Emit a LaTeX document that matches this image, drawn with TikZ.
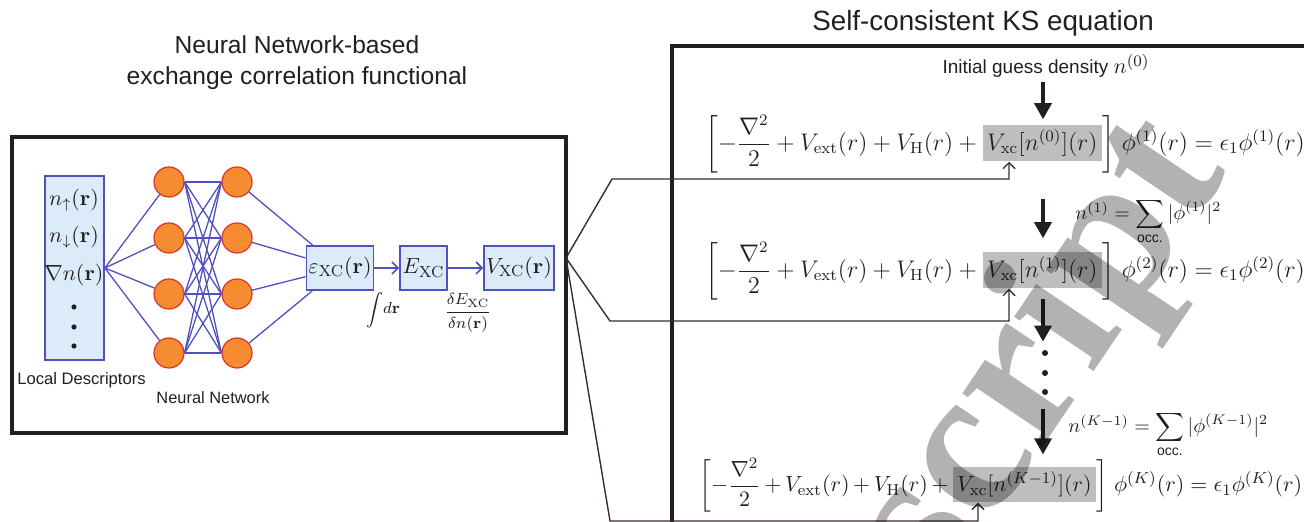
\documentclass[tikz,border=0pt]{standalone}
\usepackage{amsmath}
\usepackage[no-math]{fontspec}
\newfontfamily\arial{Liberation Sans}
\newfontfamily\wmfont{Liberation Serif}
\usetikzlibrary{arrows.meta}
\definecolor{ink}{RGB}{35,31,32}
\definecolor{nnblue}{RGB}{80,80,190}
\definecolor{nnfill}{RGB}{220,235,250}
\definecolor{orangefill}{RGB}{245,140,50}
\definecolor{reddraw}{RGB}{220,50,40}
\definecolor{hlgray}{RGB}{190,190,193}
\definecolor{lineink}{RGB}{55,45,45}
\tikzset{
  frame/.style={draw=ink, line width=2pt, inner sep=0pt},
  vbox/.style={draw=nnblue, fill=nnfill, line width=0.9pt, inner sep=1pt},
  neuron/.style={circle, draw=reddraw, fill=orangefill, line width=0.6pt, minimum size=15pt, inner sep=0pt},
  nnline/.style={draw=nnblue, line width=0.65pt},
  blarrow/.style={draw=nnblue, line width=0.8pt, -{Straight Barb[length=3pt,width=6pt]}},
  dotnode/.style={circle, fill=ink, minimum size=2.6pt, inner sep=0pt},
  hl/.style={fill=hlgray, inner xsep=2pt, inner ysep=2.5pt},
  bigarr/.style={draw=ink, line width=1.7pt, -{Triangle[length=8pt,width=8.5pt]}},
  fbarr/.style={draw=lineink, line width=0.7pt, -{Straight Barb[length=3pt,width=6pt]}},
  eqfont/.style={font=\fontsize{11.6}{14}\selectfont},
  wm/.style={font=\wmfont\bfseries\fontsize{105}{105}\selectfont, text=black, text opacity=0.3, inner sep=0pt}
}
\begin{document}
\begin{tikzpicture}[x=0.5pt,y=-0.5pt, every node/.style={inner sep=0pt, text=ink}]
\useasboundingbox (0,0) rectangle (1304,522);
\clip (0,0) rectangle (1304,522);

% titles
\node[align=center, font=\arial\fontsize{12.3}{15.5}\selectfont] (lt) at (297,63) {Neural Network-based\\exchange correlation functional};
\node[font=\arial\fontsize{13.9}{16}\selectfont] (rt) at (983,23) {Self-consistent KS equation};

% left frame
\node[frame, minimum width=277pt, minimum height=148pt] (nnbox) at (289,285) {};

% descriptors
\node[vbox, minimum width=29.5pt, minimum height=92pt] (desc) at (74.5,268) {};
\node[font=\fontsize{10.5}{13}\selectfont] (d1) at (74,200) {$n_\uparrow(\mathbf{r})$};
\node[font=\fontsize{10.5}{13}\selectfont] (d2) at (74,237) {$n_\downarrow(\mathbf{r})$};
\node[font=\fontsize{10.5}{13}\selectfont] (d3) at (74,275) {$\nabla n(\mathbf{r})$};
\node[dotnode] (dd1) at (74,307) {};
\node[dotnode] (dd2) at (74,327) {};
\node[dotnode] (dd3) at (74,346) {};
\node[anchor=west, font=\arial\fontsize{8.3}{10}\selectfont] (ld) at (17,380) {Local Descriptors};

% neurons
\foreach \i/\y in {1/182,2/238,3/294,4/353}{
  \node[neuron] (a\i) at (169,\y) {};
  \node[neuron] (b\i) at (237,\y) {};
}
\node[font=\arial\fontsize{8.2}{10}\selectfont] (nnl) at (213,398) {Neural Network};

% boxes
\node[vbox, minimum width=33pt, minimum height=22pt, font=\fontsize{11}{13}\selectfont] (eps) at (340,268) {$\varepsilon_{\mathrm{XC}}(\mathbf{r})$};
\node[vbox, minimum width=23.5pt, minimum height=22pt, font=\fontsize{11}{13}\selectfont] (Exc) at (423.5,268) {$E_{\mathrm{XC}}$};
\node[vbox, minimum width=34pt, minimum height=22pt, font=\fontsize{11}{13}\selectfont] (Vxc) at (519,268) {$V_{\mathrm{XC}}(\mathbf{r})$};

\foreach \i in {1,...,4}{
  \draw[nnline] (desc.east) -- (a\i);
  \draw[nnline] (b\i) -- (eps);
  \foreach \j in {1,...,4}{
    \draw[nnline] (a\i.east) -- (b\j.west);
  }
}
\draw[blarrow] (eps) -- (Exc);
\draw[blarrow] (Exc) -- (Vxc);
\node[font=\fontsize{8}{10}\selectfont] (intl) at (383,310) {$\displaystyle\int\! d\mathbf{r}$};
\node[font=\fontsize{8}{10}\selectfont] (dvar) at (468,313) {$\dfrac{\delta E_{\mathrm{XC}}}{\delta n(\mathbf{r})}$};

% right frame
\node[frame, minimum width=350pt, minimum height=260pt, anchor=north west] (ksbox) at (670,44) {};

% initial guess
\node[font=\arial\fontsize{9.5}{12}\selectfont] (init) at (1046,66) {Initial guess density {\fontsize{11}{13}\selectfont$n^{(0)}$}};

% equations
\node[hl, eqfont, anchor=east] (h1) at (1102,143) {$V_{\mathrm{xc}}[n^{(0)}](r)$};
\node[eqfont, anchor=base east] (l1) at (h1.base west) {$\biggl[-\dfrac{\nabla^2}{2}+V_{\mathrm{ext}}(r)+V_{\mathrm{H}}(r)+{}$};
\node[eqfont, anchor=base west] (r1) at (h1.base east) {$\biggr]\;\phi^{(1)}(r)=\epsilon_1\phi^{(1)}(r)$};

\node[hl, eqfont, anchor=east] (h2) at (1102,270) {$V_{\mathrm{xc}}[n^{(1)}](r)$};
\node[eqfont, anchor=base east] (l2) at (h2.base west) {$\biggl[-\dfrac{\nabla^2}{2}+V_{\mathrm{ext}}(r)+V_{\mathrm{H}}(r)+{}$};
\node[eqfont, anchor=base west] (r2) at (h2.base east) {$\biggr]\;\phi^{(2)}(r)=\epsilon_1\phi^{(2)}(r)$};

\node[hl, font=\fontsize{11.3}{14}\selectfont, anchor=east] (h3) at (1096,484.5) {$V_{\mathrm{xc}}[n^{(K-1)}](r)$};
\node[font=\fontsize{11.2}{14}\selectfont, anchor=base east] (l3) at (h3.base west) {$\medmuskip=3mu\biggl[-\dfrac{\nabla^2}{2}+V_{\mathrm{ext}}(r)+V_{\mathrm{H}}(r)+{}$};
\node[font=\fontsize{11.3}{14}\selectfont, anchor=base west] (r3) at (h3.base east) {$\biggr]\;\phi^{(K)}(r)=\epsilon_1\phi^{(K)}(r)$};

% density updates
\node[anchor=west, font=\fontsize{10.3}{13}\selectfont] (s1) at (1075,222) {$n^{(1)}=\displaystyle\sum_{\mbox{\arial\fontsize{7}{8}\selectfont occ.}}|\phi^{(1)}|^2$};
\node[anchor=west, font=\fontsize{10.2}{13}\selectfont] (s2) at (1068,435) {$n^{(K-1)}=\displaystyle\sum_{\mbox{\arial\fontsize{7}{8}\selectfont occ.}}|\phi^{(K-1)}|^2$};

% big arrows and dots
\coordinate (ax) at (1043,0);
\node[dotnode, minimum size=3pt] (dt1) at (1045,353) {};
\node[dotnode, minimum size=3pt] (dt2) at (1045,373) {};
\node[dotnode, minimum size=3pt] (dt3) at (1045,392) {};
\draw[bigarr, shorten <=2pt, shorten >=2.5pt] (init.south -| ax) -- (h1.north -| ax);
\draw[bigarr, shorten >=6.5pt] (s1.north -| ax) -- (h2.north -| ax);
\draw[bigarr, shorten <=5pt, shorten >=4pt] (h2.south -| ax) -- (dt1.north -| ax);
\draw[bigarr, shorten <=7pt, shorten >=6pt] (dt3.south -| ax) -- (h3.north -| ax);

% feedback connectors
\coordinate (fan) at (566,258);
\coordinate (k1) at (612,179);
\coordinate (k2) at (610,321);
\coordinate (k3) at (610,521);
\coordinate (fx) at (1009,0);
\coordinate (fx3) at (978,0);
\draw[fbarr] (fan) -- (k1) -- (k1 -| fx) -- (h1.south -| fx);
\draw[fbarr] (fan) -- (k2) -- (k2 -| fx) -- (h2.south -| fx);
\draw[fbarr] (fan) -- (k3) -- (k3 -| fx3) -- (h3.south -| fx3);

% watermark
\coordinate (wmp) at (987,530);
\node[wm, anchor=base east, rotate=56] (wm1) at (wmp) {Manus};
\node[wm, anchor=base west, rotate=56] (wm2) at (wmp) {cript};
\end{tikzpicture}
\end{document}
